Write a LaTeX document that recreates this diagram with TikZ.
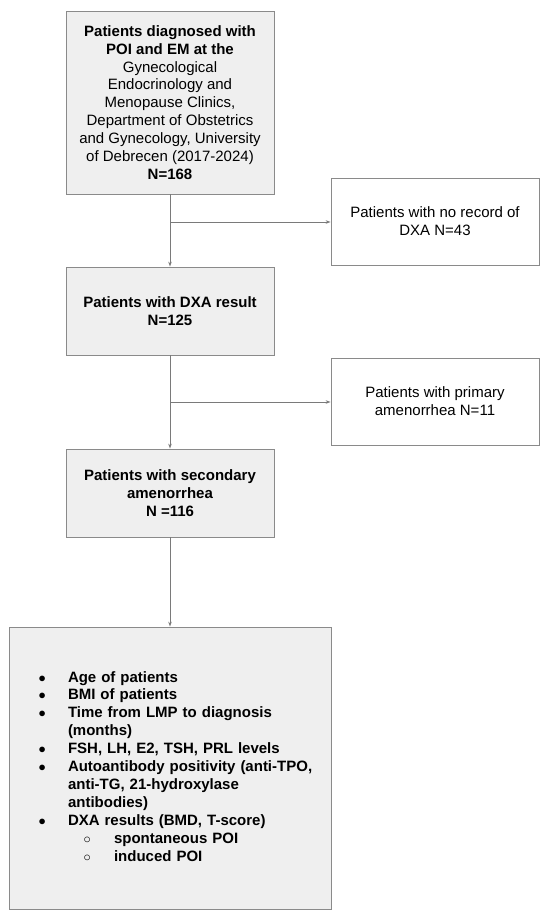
\documentclass[tikz,border=0pt]{standalone}
\usepackage{fontspec}
\setmainfont{Liberation Sans}
\usetikzlibrary{arrows.meta}
\definecolor{boxfill}{HTML}{EFEFEF}
\definecolor{boxline}{HTML}{8A8A8A}
\definecolor{arrline}{HTML}{7A7A7A}
\newcommand{\itm}[1]{\makebox[29.5pt][l]{$\bullet$}#1}
\newcommand{\subitm}[1]{\hspace*{45pt}\makebox[30.5pt][l]{$\circ$}#1}
\newcommand{\cont}[1]{\hspace*{29.5pt}#1}

\begin{document}
\begin{tikzpicture}[x=1pt,y=-1pt]
\tikzset{
	gbox/.style={rectangle, draw=boxline, fill=boxfill, line width=0.8pt, minimum width=208pt, inner sep=0pt, align=center, font=\fontsize{15}{17.9}\selectfont},
	wbox/.style={gbox, fill=white, minimum height=87pt},
	conn/.style={draw=arrline, line width=0.8pt, -{Stealth[length=5pt,width=3.5pt]}}
}
\useasboundingbox (0,0) rectangle (550,915);

% main column
\node[gbox, minimum height=183pt] (diag) at (170,102.5) {\textbf{Patients diagnosed with}\\\textbf{POI and EM at the}\\Gynecological\\Endocrinology and\\Menopause Clinics,\\Department of Obstetrics\\and Gynecology, University\\of Debrecen (2017-2024)\\\textbf{N=168}};
\node[gbox, minimum height=88pt] (dxa) at (170,311) {\textbf{Patients with DXA result}\\\textbf{N=125}};
\node[gbox, minimum height=88pt] (sec) at (170,493) {\textbf{Patients with secondary}\\\textbf{amenorrhea}\\\textbf{N =116}};

% excluded
\node[wbox] (norec) at (435,221.5) {Patients with no record of\\DXA N=43};
\node[wbox] (prim) at (435,401.5) {Patients with primary\\amenorrhea N=11};

% variables
\node[gbox, minimum width=322pt, minimum height=282pt, text width=263pt, align=left] (vars) at (170,768) {\bfseries
\begin{tabular}{@{}l@{}}
\itm{Age of patients}\\
\itm{BMI of patients}\\
\itm{Time from LMP to diagnosis}\\
\cont{(months)}\\
\itm{FSH, LH, E2, TSH, PRL levels}\\
\itm{Autoantibody positivity (anti-TPO,}\\
\cont{anti-TG, 21-hydroxylase}\\
\cont{antibodies)}\\
\itm{DXA results (BMD, T-score)}\\
\subitm{spontaneous POI}\\
\subitm{induced POI}
\end{tabular}};

% arrows
\coordinate (b1) at (170,222);
\coordinate (b2) at (170,402);
\draw[conn] (diag.south) -- (dxa.north);
\draw[conn] (b1) -- (norec.west |- b1);
\draw[conn] (dxa.south) -- (sec.north);
\draw[conn] (b2) -- (prim.west |- b2);
\draw[conn] (sec.south) -- (vars.north);

\end{tikzpicture}
\end{document}
